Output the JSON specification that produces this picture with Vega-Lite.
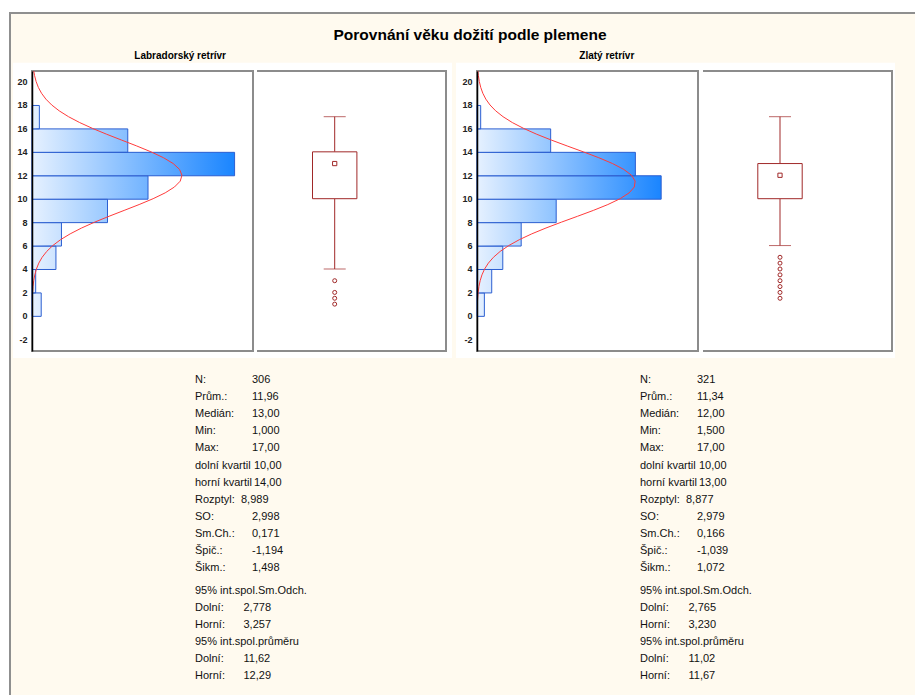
{
  "$schema": "https://vega.github.io/schema/vega-lite/v6.json",
  "autosize": {"type": "none"},
  "width": 905,
  "height": 682,
  "padding": {"left": 10, "top": 13, "right": 0, "bottom": 0},
  "background": "white",
  "config": {
    "font": "Liberation Sans",
    "view": {"fill": "#FFFAEF", "stroke": "#8f8f8f", "strokeWidth": 2, "strokeDash": [905, 1587, 700]}
  },
  "title": {"text": "Porovnání věku dožití podle plemene", "fontSize": 15.5, "fontWeight": "bold", "color": "#000000", "anchor": "middle", "frame": "group", "dx": 7.5, "offset": -42, "baseline": "alphabetic"},
  "datasets": {
    "hist": [
      {"breed": "Labradorský retrívr", "from": 0, "to": 2, "count": 5},
      {"breed": "Labradorský retrívr", "from": 2, "to": 4, "count": 2},
      {"breed": "Labradorský retrívr", "from": 4, "to": 6, "count": 13},
      {"breed": "Labradorský retrívr", "from": 6, "to": 8, "count": 16},
      {"breed": "Labradorský retrívr", "from": 8, "to": 10, "count": 41},
      {"breed": "Labradorský retrívr", "from": 10, "to": 12, "count": 63},
      {"breed": "Labradorský retrívr", "from": 12, "to": 14, "count": 110},
      {"breed": "Labradorský retrívr", "from": 14, "to": 16, "count": 52},
      {"breed": "Labradorský retrívr", "from": 16, "to": 18, "count": 4},
      {"breed": "Zlatý retrívr", "from": 0, "to": 2, "count": 4},
      {"breed": "Zlatý retrívr", "from": 2, "to": 4, "count": 8},
      {"breed": "Zlatý retrívr", "from": 4, "to": 6, "count": 14},
      {"breed": "Zlatý retrívr", "from": 6, "to": 8, "count": 24},
      {"breed": "Zlatý retrívr", "from": 8, "to": 10, "count": 43},
      {"breed": "Zlatý retrívr", "from": 10, "to": 12, "count": 100},
      {"breed": "Zlatý retrívr", "from": 12, "to": 14, "count": 86},
      {"breed": "Zlatý retrívr", "from": 14, "to": 16, "count": 40},
      {"breed": "Zlatý retrívr", "from": 16, "to": 18, "count": 2}
    ],
    "curve": [
      {"breed": "Labradorský retrívr", "age": 1.6, "fit": 0.21},
      {"breed": "Labradorský retrívr", "age": 2.0, "fit": 0.33},
      {"breed": "Labradorský retrívr", "age": 2.5, "fit": 0.56},
      {"breed": "Labradorský retrívr", "age": 3.0, "fit": 0.94},
      {"breed": "Labradorský retrívr", "age": 3.5, "fit": 1.52},
      {"breed": "Labradorský retrívr", "age": 4.0, "fit": 2.40},
      {"breed": "Labradorský retrívr", "age": 4.5, "fit": 3.68},
      {"breed": "Labradorský retrívr", "age": 5.0, "fit": 5.50},
      {"breed": "Labradorský retrívr", "age": 5.5, "fit": 8.00},
      {"breed": "Labradorský retrívr", "age": 6.0, "fit": 11.29},
      {"breed": "Labradorský retrívr", "age": 6.5, "fit": 15.50},
      {"breed": "Labradorský retrívr", "age": 7.0, "fit": 20.73},
      {"breed": "Labradorský retrívr", "age": 7.5, "fit": 26.93},
      {"breed": "Labradorský retrívr", "age": 8.0, "fit": 34.04},
      {"breed": "Labradorský retrívr", "age": 8.5, "fit": 41.84},
      {"breed": "Labradorský retrívr", "age": 9.0, "fit": 50.02},
      {"breed": "Labradorský retrívr", "age": 9.5, "fit": 58.16},
      {"breed": "Labradorský retrívr", "age": 10.0, "fit": 65.77},
      {"breed": "Labradorský retrívr", "age": 10.5, "fit": 72.33},
      {"breed": "Labradorský retrívr", "age": 11.0, "fit": 77.37},
      {"breed": "Labradorský retrívr", "age": 11.5, "fit": 80.49},
      {"breed": "Labradorský retrívr", "age": 12.0, "fit": 81.43},
      {"breed": "Labradorský retrívr", "age": 12.5, "fit": 80.13},
      {"breed": "Labradorský retrívr", "age": 13.0, "fit": 76.68},
      {"breed": "Labradorský retrívr", "age": 13.5, "fit": 71.37},
      {"breed": "Labradorský retrívr", "age": 14.0, "fit": 64.61},
      {"breed": "Labradorský retrívr", "age": 14.5, "fit": 56.88},
      {"breed": "Labradorský retrívr", "age": 15.0, "fit": 48.70},
      {"breed": "Labradorský retrívr", "age": 15.5, "fit": 40.56},
      {"breed": "Labradorský retrívr", "age": 16.0, "fit": 32.85},
      {"breed": "Labradorský retrívr", "age": 16.5, "fit": 25.88},
      {"breed": "Labradorský retrívr", "age": 17.0, "fit": 19.82},
      {"breed": "Labradorský retrívr", "age": 17.5, "fit": 14.77},
      {"breed": "Labradorský retrívr", "age": 18.0, "fit": 10.70},
      {"breed": "Labradorský retrívr", "age": 18.5, "fit": 7.54},
      {"breed": "Labradorský retrívr", "age": 19.0, "fit": 5.17},
      {"breed": "Labradorský retrívr", "age": 19.5, "fit": 3.45},
      {"breed": "Labradorský retrívr", "age": 20.0, "fit": 2.24},
      {"breed": "Labradorský retrívr", "age": 20.5, "fit": 1.41},
      {"breed": "Labradorský retrívr", "age": 20.9, "fit": 0.95},
      {"breed": "Zlatý retrívr", "age": 1.3, "fit": 0.29},
      {"breed": "Zlatý retrívr", "age": 1.5, "fit": 0.37},
      {"breed": "Zlatý retrívr", "age": 2.0, "fit": 0.63},
      {"breed": "Zlatý retrívr", "age": 2.5, "fit": 1.05},
      {"breed": "Zlatý retrívr", "age": 3.0, "fit": 1.71},
      {"breed": "Zlatý retrívr", "age": 3.5, "fit": 2.69},
      {"breed": "Zlatý retrívr", "age": 4.0, "fit": 4.13},
      {"breed": "Zlatý retrívr", "age": 4.5, "fit": 6.16},
      {"breed": "Zlatý retrívr", "age": 5.0, "fit": 8.93},
      {"breed": "Zlatý retrívr", "age": 5.5, "fit": 12.58},
      {"breed": "Zlatý retrívr", "age": 6.0, "fit": 17.24},
      {"breed": "Zlatý retrívr", "age": 6.5, "fit": 22.97},
      {"breed": "Zlatý retrívr", "age": 7.0, "fit": 29.75},
      {"breed": "Zlatý retrívr", "age": 7.5, "fit": 37.46},
      {"breed": "Zlatý retrívr", "age": 8.0, "fit": 45.86},
      {"breed": "Zlatý retrívr", "age": 8.5, "fit": 54.59},
      {"breed": "Zlatý retrívr", "age": 9.0, "fit": 63.16},
      {"breed": "Zlatý retrívr", "age": 9.5, "fit": 71.05},
      {"breed": "Zlatý retrívr", "age": 10.0, "fit": 77.71},
      {"breed": "Zlatý retrívr", "age": 10.5, "fit": 82.63},
      {"breed": "Zlatý retrívr", "age": 11.0, "fit": 85.42},
      {"breed": "Zlatý retrívr", "age": 11.5, "fit": 85.86},
      {"breed": "Zlatý retrívr", "age": 12.0, "fit": 83.90},
      {"breed": "Zlatý retrívr", "age": 12.5, "fit": 79.70},
      {"breed": "Zlatý retrívr", "age": 13.0, "fit": 73.62},
      {"breed": "Zlatý retrívr", "age": 13.5, "fit": 66.11},
      {"breed": "Zlatý retrívr", "age": 14.0, "fit": 57.71},
      {"breed": "Zlatý retrívr", "age": 14.5, "fit": 48.98},
      {"breed": "Zlatý retrívr", "age": 15.0, "fit": 40.43},
      {"breed": "Zlatý retrívr", "age": 15.5, "fit": 32.44},
      {"breed": "Zlatý retrívr", "age": 16.0, "fit": 25.31},
      {"breed": "Zlatý retrívr", "age": 16.5, "fit": 19.18},
      {"breed": "Zlatý retrívr", "age": 17.0, "fit": 14.14},
      {"breed": "Zlatý retrívr", "age": 17.5, "fit": 10.14},
      {"breed": "Zlatý retrívr", "age": 18.0, "fit": 7.06},
      {"breed": "Zlatý retrívr", "age": 18.5, "fit": 4.79},
      {"breed": "Zlatý retrívr", "age": 19.0, "fit": 3.16},
      {"breed": "Zlatý retrívr", "age": 19.5, "fit": 2.02},
      {"breed": "Zlatý retrívr", "age": 20.0, "fit": 1.26},
      {"breed": "Zlatý retrívr", "age": 20.5, "fit": 0.76},
      {"breed": "Zlatý retrívr", "age": 20.9, "fit": 0.50}
    ],
    "box": [
      {"breed": "Labradorský retrívr", "lo": 4, "q1": 10, "median": 13, "q3": 14, "hi": 17},
      {"breed": "Zlatý retrívr", "lo": 6, "q1": 10, "median": 12, "q3": 13, "hi": 17}
    ],
    "outliers": [
      {"breed": "Labradorský retrívr", "value": 3},
      {"breed": "Labradorský retrívr", "value": 2},
      {"breed": "Labradorský retrívr", "value": 1.5},
      {"breed": "Labradorský retrívr", "value": 1},
      {"breed": "Zlatý retrívr", "value": 5},
      {"breed": "Zlatý retrívr", "value": 4.5},
      {"breed": "Zlatý retrívr", "value": 4},
      {"breed": "Zlatý retrívr", "value": 3.5},
      {"breed": "Zlatý retrívr", "value": 3},
      {"breed": "Zlatý retrívr", "value": 2.5},
      {"breed": "Zlatý retrívr", "value": 2},
      {"breed": "Zlatý retrívr", "value": 1.5}
    ],
    "stats": [
      {"breed": "Labradorský retrívr", "line": 1, "label": "N:", "value": "306"},
      {"breed": "Labradorský retrívr", "line": 2, "label": "Prům.:", "value": "11,96"},
      {"breed": "Labradorský retrívr", "line": 3, "label": "Medián:", "value": "13,00"},
      {"breed": "Labradorský retrívr", "line": 4, "label": "Min:", "value": "1,000"},
      {"breed": "Labradorský retrívr", "line": 5, "label": "Max:", "value": "17,00"},
      {"breed": "Labradorský retrívr", "line": 6, "label": "dolní kvartil", "value": "10,00"},
      {"breed": "Labradorský retrívr", "line": 7, "label": "horní kvartil", "value": "14,00"},
      {"breed": "Labradorský retrívr", "line": 8, "label": "Rozptyl:", "value": "8,989"},
      {"breed": "Labradorský retrívr", "line": 9, "label": "SO:", "value": "2,998"},
      {"breed": "Labradorský retrívr", "line": 10, "label": "Sm.Ch.:", "value": "0,171"},
      {"breed": "Labradorský retrívr", "line": 11, "label": "Špič.:", "value": "-1,194"},
      {"breed": "Labradorský retrívr", "line": 12, "label": "Šikm.:", "value": "1,498"},
      {"breed": "Labradorský retrívr", "line": 13, "label": "95% int.spol.Sm.Odch.", "value": ""},
      {"breed": "Labradorský retrívr", "line": 14, "label": "Dolní:", "value": "2,778"},
      {"breed": "Labradorský retrívr", "line": 15, "label": "Horní:", "value": "3,257"},
      {"breed": "Labradorský retrívr", "line": 16, "label": "95% int.spol.průměru", "value": ""},
      {"breed": "Labradorský retrívr", "line": 17, "label": "Dolní:", "value": "11,62"},
      {"breed": "Labradorský retrívr", "line": 18, "label": "Horní:", "value": "12,29"},
      {"breed": "Zlatý retrívr", "line": 1, "label": "N:", "value": "321"},
      {"breed": "Zlatý retrívr", "line": 2, "label": "Prům.:", "value": "11,34"},
      {"breed": "Zlatý retrívr", "line": 3, "label": "Medián:", "value": "12,00"},
      {"breed": "Zlatý retrívr", "line": 4, "label": "Min:", "value": "1,500"},
      {"breed": "Zlatý retrívr", "line": 5, "label": "Max:", "value": "17,00"},
      {"breed": "Zlatý retrívr", "line": 6, "label": "dolní kvartil", "value": "10,00"},
      {"breed": "Zlatý retrívr", "line": 7, "label": "horní kvartil", "value": "13,00"},
      {"breed": "Zlatý retrívr", "line": 8, "label": "Rozptyl:", "value": "8,877"},
      {"breed": "Zlatý retrívr", "line": 9, "label": "SO:", "value": "2,979"},
      {"breed": "Zlatý retrívr", "line": 10, "label": "Sm.Ch.:", "value": "0,166"},
      {"breed": "Zlatý retrívr", "line": 11, "label": "Špič.:", "value": "-1,039"},
      {"breed": "Zlatý retrívr", "line": 12, "label": "Šikm.:", "value": "1,072"},
      {"breed": "Zlatý retrívr", "line": 13, "label": "95% int.spol.Sm.Odch.", "value": ""},
      {"breed": "Zlatý retrívr", "line": 14, "label": "Dolní:", "value": "2,765"},
      {"breed": "Zlatý retrívr", "line": 15, "label": "Horní:", "value": "3,230"},
      {"breed": "Zlatý retrívr", "line": 16, "label": "95% int.spol.průměru", "value": ""},
      {"breed": "Zlatý retrívr", "line": 17, "label": "Dolní:", "value": "11,02"},
      {"breed": "Zlatý retrívr", "line": 18, "label": "Horní:", "value": "11,67"}
    ]
  },
  "resolve": {
    "scale": {"x": "independent", "y": "independent", "color": "independent"},
    "axis": {"x": "independent", "y": "independent"}
  },
  "layer": [
    {
      "data": {"name": "box"},
      "mark": {"type": "rect", "fill": "white"},
      "encoding": {
        "x": {"field": "breed", "type": "nominal", "scale": {"type": "band", "range": [3, 885], "paddingInner": 0.00903, "paddingOuter": 0}, "axis": null},
        "y": {"datum": -3.6, "type": "quantitative", "scale": {"domain": [-3, 20.9], "range": [338, 58], "nice": false, "zero": false}, "axis": null},
        "y2": {"datum": 21.6}
      }
    },
    {
      "data": {"name": "box"},
      "mark": {"type": "text", "align": "left", "baseline": "alphabetic", "fontSize": 10, "fontWeight": "bold", "color": "#000000"},
      "encoding": {
        "x": {"field": "breed", "type": "nominal", "scale": {"type": "point", "range": [124.3, 569.3], "padding": 0}, "axis": null},
        "y": {"datum": 21.95, "type": "quantitative", "scale": {"domain": [-3, 20.9], "range": [338, 58], "nice": false, "zero": false}, "axis": null},
        "text": {"field": "breed"}
      }
    },
    {
      "data": {"name": "box"},
      "mark": {"type": "rect", "fill": "white", "stroke": "#8c8c8c", "strokeWidth": 2},
      "encoding": {
        "x": {"field": "breed", "type": "nominal", "scale": {"type": "band", "range": [22, 688], "paddingInner": 0.50337, "paddingOuter": 0}, "axis": null},
        "y": {"datum": -3, "type": "quantitative", "scale": {"domain": [-3, 20.9], "range": [338, 58], "nice": false, "zero": false}, "axis": null},
        "y2": {"datum": 20.9}
      }
    },
    {
      "data": {"name": "box"},
      "mark": {"type": "rect", "fill": "white", "stroke": "#8c8c8c", "strokeWidth": 2, "strokeDash": [658, 400]},
      "encoding": {
        "x": {"field": "breed", "type": "nominal", "scale": {"type": "band", "range": [247, 882], "paddingInner": 0.57623, "paddingOuter": 0}, "axis": null},
        "y": {"datum": -3, "type": "quantitative", "scale": {"domain": [-3, 20.9], "range": [338, 58], "nice": false, "zero": false}, "axis": null},
        "y2": {"datum": 20.9}
      }
    },
    {
      "data": {"name": "hist"},
      "transform": [{"filter": {"field": "breed", "equal": "Labradorský retrívr"}}],
      "mark": {"type": "bar", "binSpacing": 0},
      "encoding": {
        "y": {"field": "from", "type": "quantitative", "bin": "binned",
              "scale": {"domain": [-3, 20.9], "range": [338, 58], "nice": false, "zero": false},
              "axis": {"orient": "left", "offset": -22, "zindex": 1, "values": [-2, 0, 2, 4, 6, 8, 10, 12, 14, 16, 18, 20], "labelExpr": "'' + datum.value", "ticks": false, "grid": false, "title": null, "domain": true, "domainColor": "#000000", "domainWidth": 1.5, "labels": true, "labelFontSize": 9, "labelFontWeight": "bold", "labelColor": "#222222", "labelPadding": 5, "labelFlush": false, "labelOverlap": false}},
        "y2": {"field": "to"},
        "x": {"field": "count", "type": "quantitative", "scale": {"domain": [0, 120], "range": [22, 243], "nice": false, "zero": false}, "axis": null},
        "color": {"field": "count", "type": "quantitative", "scale": {"domainMin": 0, "range": ["#E6F1FF", "#1A85FF"], "interpolate": "rgb"}, "legend": null}
      }
    },
    {
      "data": {"name": "hist"},
      "transform": [{"filter": {"field": "breed", "equal": "Labradorský retrívr"}}],
      "mark": {"type": "bar", "binSpacing": 0, "stroke": "#2C5FD1", "strokeWidth": 1,
               "fill": {"gradient": "linear", "x1": 0, "y1": 0, "x2": 1, "y2": 0, "stops": [{"offset": 0, "color": "rgba(230,241,255,1)"}, {"offset": 1, "color": "rgba(230,241,255,0)"}]}},
      "encoding": {
        "y": {"field": "from", "type": "quantitative", "bin": "binned", "scale": {"domain": [-3, 20.9], "range": [338, 58], "nice": false, "zero": false}, "axis": null},
        "y2": {"field": "to"},
        "x": {"field": "count", "type": "quantitative", "scale": {"domain": [0, 120], "range": [22, 243], "nice": false, "zero": false}, "axis": null}
      }
    },
    {
      "data": {"name": "curve"},
      "transform": [{"filter": {"field": "breed", "equal": "Labradorský retrívr"}}],
      "mark": {"type": "line", "color": "#FF3B3B", "strokeWidth": 1},
      "encoding": {
        "y": {"field": "age", "type": "quantitative", "scale": {"domain": [-3, 20.9], "range": [338, 58], "nice": false, "zero": false}, "axis": null},
        "x": {"field": "fit", "type": "quantitative", "scale": {"domain": [0, 120], "range": [22, 243], "nice": false, "zero": false}, "axis": null},
        "order": {"field": "age"}
      }
    },
    {
      "data": {"name": "hist"},
      "transform": [{"filter": {"field": "breed", "equal": "Zlatý retrívr"}}],
      "mark": {"type": "bar", "binSpacing": 0},
      "encoding": {
        "y": {"field": "from", "type": "quantitative", "bin": "binned",
              "scale": {"domain": [-3, 20.9], "range": [338, 58], "nice": false, "zero": false},
              "axis": {"orient": "left", "offset": -467, "zindex": 1, "values": [-2, 0, 2, 4, 6, 8, 10, 12, 14, 16, 18, 20], "labelExpr": "'' + datum.value", "ticks": false, "grid": false, "title": null, "domain": true, "domainColor": "#000000", "domainWidth": 1.5, "labels": true, "labelFontSize": 9, "labelFontWeight": "bold", "labelColor": "#222222", "labelPadding": 5, "labelFlush": false, "labelOverlap": false}},
        "y2": {"field": "to"},
        "x": {"field": "count", "type": "quantitative", "scale": {"domain": [0, 120], "range": [467, 688], "nice": false, "zero": false}, "axis": null},
        "color": {"field": "count", "type": "quantitative", "scale": {"domainMin": 0, "range": ["#E6F1FF", "#1A85FF"], "interpolate": "rgb"}, "legend": null}
      }
    },
    {
      "data": {"name": "hist"},
      "transform": [{"filter": {"field": "breed", "equal": "Zlatý retrívr"}}],
      "mark": {"type": "bar", "binSpacing": 0, "stroke": "#2C5FD1", "strokeWidth": 1,
               "fill": {"gradient": "linear", "x1": 0, "y1": 0, "x2": 1, "y2": 0, "stops": [{"offset": 0, "color": "rgba(230,241,255,1)"}, {"offset": 1, "color": "rgba(230,241,255,0)"}]}},
      "encoding": {
        "y": {"field": "from", "type": "quantitative", "bin": "binned", "scale": {"domain": [-3, 20.9], "range": [338, 58], "nice": false, "zero": false}, "axis": null},
        "y2": {"field": "to"},
        "x": {"field": "count", "type": "quantitative", "scale": {"domain": [0, 120], "range": [467, 688], "nice": false, "zero": false}, "axis": null}
      }
    },
    {
      "data": {"name": "curve"},
      "transform": [{"filter": {"field": "breed", "equal": "Zlatý retrívr"}}],
      "mark": {"type": "line", "color": "#FF3B3B", "strokeWidth": 1},
      "encoding": {
        "y": {"field": "age", "type": "quantitative", "scale": {"domain": [-3, 20.9], "range": [338, 58], "nice": false, "zero": false}, "axis": null},
        "x": {"field": "fit", "type": "quantitative", "scale": {"domain": [0, 120], "range": [467, 688], "nice": false, "zero": false}, "axis": null},
        "order": {"field": "age"}
      }
    },
    {
      "data": {"name": "box"},
      "layer": [
        {"mark": {"type": "rule", "color": "#A02828", "strokeWidth": 1},
         "encoding": {
           "x": {"field": "breed", "type": "nominal", "scale": {"type": "band", "range": [302.5, 792.2], "paddingInner": 0.9003, "paddingOuter": 0}, "axis": null},
           "y": {"field": "lo", "type": "quantitative", "scale": {"domain": [-3, 20.9], "range": [338, 58], "nice": false, "zero": false}, "axis": null},
           "y2": {"field": "q1"}}},
        {"mark": {"type": "rule", "color": "#A02828", "strokeWidth": 1},
         "encoding": {"x": {"field": "breed", "type": "nominal", "axis": null}, "y": {"field": "q3", "type": "quantitative", "axis": null}, "y2": {"field": "hi"}}},
        {"mark": {"type": "tick", "color": "#A02828", "size": 22, "thickness": 1},
         "encoding": {"x": {"field": "breed", "type": "nominal", "axis": null}, "y": {"field": "lo", "type": "quantitative", "axis": null}}},
        {"mark": {"type": "tick", "color": "#A02828", "size": 22, "thickness": 1},
         "encoding": {"x": {"field": "breed", "type": "nominal", "axis": null}, "y": {"field": "hi", "type": "quantitative", "axis": null}}},
        {"mark": {"type": "bar", "fill": "white", "stroke": "#A02828", "strokeWidth": 1},
         "encoding": {"x": {"field": "breed", "type": "nominal", "axis": null}, "y": {"field": "q1", "type": "quantitative", "axis": null}, "y2": {"field": "q3"}}},
        {"mark": {"type": "point", "shape": "square", "size": 18, "filled": false, "color": "#A02828", "strokeWidth": 1, "opacity": 1},
         "encoding": {"x": {"field": "breed", "type": "nominal", "axis": null}, "y": {"field": "median", "type": "quantitative", "axis": null}}},
        {"data": {"name": "outliers"},
         "mark": {"type": "point", "shape": "circle", "size": 16, "filled": false, "color": "#A02828", "strokeWidth": 1, "opacity": 1},
         "encoding": {"x": {"field": "breed", "type": "nominal", "axis": null}, "y": {"field": "value", "type": "quantitative", "axis": null}}}
      ]
    },
    {
      "data": {"name": "stats"},
      "layer": [
        {"transform": [{"filter": "datum.line <= 12"}],
         "mark": {"type": "text", "align": "left", "baseline": "middle", "fontSize": 11, "color": "#111111"},
         "encoding": {
           "x": {"field": "breed", "type": "nominal", "scale": {"type": "point", "range": [185, 630], "padding": 0}, "axis": null},
           "y": {"field": "line", "type": "ordinal", "scale": {"type": "point", "range": [367, 658], "padding": 0}, "axis": null},
           "text": {"field": "label"}}},
        {"transform": [{"filter": "datum.line >= 13"}],
         "mark": {"type": "text", "align": "left", "baseline": "middle", "fontSize": 11, "color": "#111111", "dy": 5.3},
         "encoding": {"x": {"field": "breed", "type": "nominal", "axis": null}, "y": {"field": "line", "type": "ordinal", "axis": null}, "text": {"field": "label"}}},
        {"transform": [{"filter": "datum.line <= 5 || (datum.line >= 9 && datum.line <= 12)"}],
         "mark": {"type": "text", "align": "left", "baseline": "middle", "fontSize": 11, "color": "#111111", "dx": 57},
         "encoding": {"x": {"field": "breed", "type": "nominal", "axis": null}, "y": {"field": "line", "type": "ordinal", "axis": null}, "text": {"field": "value"}}},
        {"transform": [{"filter": "datum.line == 6 || datum.line == 7"}],
         "mark": {"type": "text", "align": "left", "baseline": "middle", "fontSize": 11, "color": "#111111", "dx": 59},
         "encoding": {"x": {"field": "breed", "type": "nominal", "axis": null}, "y": {"field": "line", "type": "ordinal", "axis": null}, "text": {"field": "value"}}},
        {"transform": [{"filter": "datum.line == 8"}],
         "mark": {"type": "text", "align": "left", "baseline": "middle", "fontSize": 11, "color": "#111111", "dx": 46},
         "encoding": {"x": {"field": "breed", "type": "nominal", "axis": null}, "y": {"field": "line", "type": "ordinal", "axis": null}, "text": {"field": "value"}}},
        {"transform": [{"filter": "datum.line >= 13 && datum.value != ''"}],
         "mark": {"type": "text", "align": "left", "baseline": "middle", "fontSize": 11, "color": "#111111", "dx": 48.5, "dy": 5.3},
         "encoding": {"x": {"field": "breed", "type": "nominal", "axis": null}, "y": {"field": "line", "type": "ordinal", "axis": null}, "text": {"field": "value"}}}
      ]
    }
  ]
}
